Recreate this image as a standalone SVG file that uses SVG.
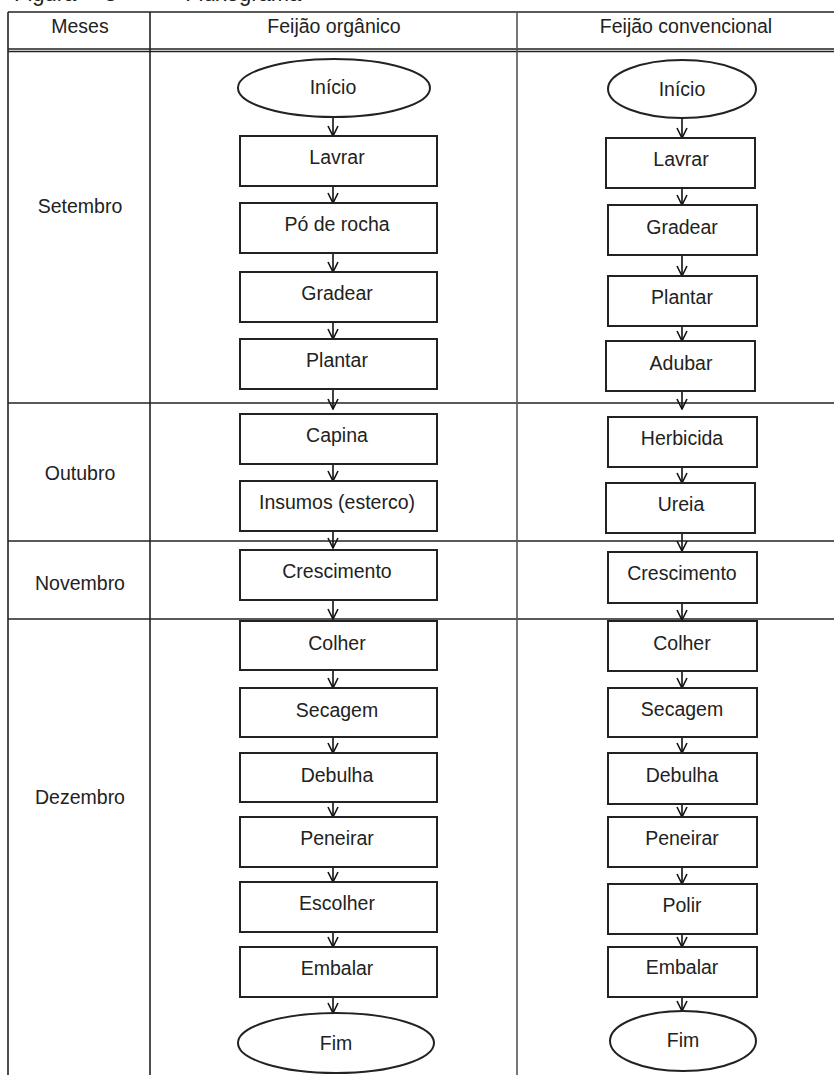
<svg xmlns="http://www.w3.org/2000/svg" width="834" height="1075" viewBox="0 0 834 1075">
<defs>
<marker id="v" viewBox="0 0 12 12" refX="11" refY="6" markerWidth="12" markerHeight="12" markerUnits="userSpaceOnUse" orient="auto">
<path d="M1,1 L11,6 L1,11" fill="none" stroke="#111" stroke-width="1.6"/>
</marker>
<style>
text{font-family:"Liberation Sans",Arial,sans-serif;font-size:19.5px;fill:#222;text-anchor:middle}
.grid{stroke:#222;stroke-width:1.6;fill:none}
.vg{stroke:#555;stroke-width:1.6;fill:none}
.box{fill:#fff;stroke:#222;stroke-width:2}
.conn{stroke:#111;stroke-width:1.6;fill:none;marker-end:url(#v)}
</style>
</defs>
<rect width="834" height="1075" fill="#fff"/>
<text x="14" y="1" style="text-anchor:start;font-size:22px;word-spacing:22px">Figura 3 – Fluxograma</text>
<g id="table">
<line class="grid" x1="8" y1="12" x2="834" y2="12"/>
<line class="grid" x1="8" y1="49" x2="834" y2="49"/>
<line class="grid" x1="8" y1="51.5" x2="834" y2="51.5"/>
<line class="grid" x1="8" y1="403" x2="834" y2="403"/>
<line class="grid" x1="8" y1="541" x2="834" y2="541"/>
<line class="grid" x1="8" y1="619" x2="834" y2="619"/>
<line class="grid" x1="8" y1="12" x2="8" y2="1075"/>
<line class="grid" x1="150" y1="12" x2="150" y2="1075"/>
<line class="vg" x1="517" y1="12" x2="517" y2="1075"/>
<text x="80" y="33">Meses</text>
<text x="334" y="33">Feijão orgânico</text>
<text x="686" y="33">Feijão convencional</text>
<text x="80" y="213">Setembro</text>
<text x="80" y="480">Outubro</text>
<text x="80" y="590">Novembro</text>
<text x="80" y="804">Dezembro</text>
</g>
<g id="connectors">
<line class="conn" x1="333" y1="117" x2="333" y2="136"/>
<line class="conn" x1="333" y1="186" x2="333" y2="203"/>
<line class="conn" x1="333" y1="253" x2="333" y2="272"/>
<line class="conn" x1="333" y1="322" x2="333" y2="339"/>
<line class="conn" x1="333" y1="389" x2="333" y2="409"/>
<line class="conn" x1="333" y1="464" x2="333" y2="481"/>
<line class="conn" x1="333" y1="531" x2="333" y2="548"/>
<line class="conn" x1="333" y1="600" x2="333" y2="619"/>
<line class="conn" x1="333" y1="670" x2="333" y2="688"/>
<line class="conn" x1="333" y1="737" x2="333" y2="753"/>
<line class="conn" x1="333" y1="802" x2="333" y2="817"/>
<line class="conn" x1="333" y1="867" x2="333" y2="882"/>
<line class="conn" x1="333" y1="932" x2="333" y2="947"/>
<line class="conn" x1="333" y1="997" x2="333" y2="1013"/>
<line class="conn" x1="682" y1="118" x2="682" y2="138"/>
<line class="conn" x1="682" y1="188" x2="682" y2="205"/>
<line class="conn" x1="682" y1="255" x2="682" y2="276"/>
<line class="conn" x1="682" y1="326" x2="682" y2="341"/>
<line class="conn" x1="682" y1="391" x2="682" y2="409"/>
<line class="conn" x1="682" y1="467" x2="682" y2="483"/>
<line class="conn" x1="682" y1="533" x2="682" y2="551"/>
<line class="conn" x1="682" y1="603" x2="682" y2="620"/>
<line class="conn" x1="682" y1="671" x2="682" y2="688"/>
<line class="conn" x1="682" y1="737" x2="682" y2="753"/>
<line class="conn" x1="682" y1="804" x2="682" y2="817"/>
<line class="conn" x1="682" y1="867" x2="682" y2="884"/>
<line class="conn" x1="682" y1="934" x2="682" y2="947"/>
<line class="conn" x1="682" y1="997" x2="682" y2="1011"/>
</g>
<g id="o-inicio"><ellipse class="box" cx="334" cy="88" rx="96" ry="29"/><text x="333" y="94">Início</text></g>
<g id="o-lavrar"><rect class="box" x="240" y="136" width="197" height="50"/><text x="337" y="164">Lavrar</text></g>
<g id="o-porocha"><rect class="box" x="240" y="203" width="197" height="50"/><text x="337" y="231">Pó de rocha</text></g>
<g id="o-gradear"><rect class="box" x="240" y="272" width="197" height="50"/><text x="337" y="300">Gradear</text></g>
<g id="o-plantar"><rect class="box" x="240" y="339" width="197" height="50"/><text x="337" y="367">Plantar</text></g>
<g id="o-capina"><rect class="box" x="240" y="414" width="197" height="50"/><text x="337" y="442">Capina</text></g>
<g id="o-insumos"><rect class="box" x="240" y="481" width="197" height="50"/><text x="337" y="509">Insumos (esterco)</text></g>
<g id="o-crescimento"><rect class="box" x="240" y="550" width="197" height="50"/><text x="337" y="578">Crescimento</text></g>
<g id="o-colher"><rect class="box" x="240" y="621" width="197" height="49"/><text x="337" y="650">Colher</text></g>
<g id="o-secagem"><rect class="box" x="240" y="688" width="197" height="49"/><text x="337" y="717">Secagem</text></g>
<g id="o-debulha"><rect class="box" x="240" y="753" width="197" height="49"/><text x="337" y="782">Debulha</text></g>
<g id="o-peneirar"><rect class="box" x="240" y="817" width="197" height="50"/><text x="337" y="845">Peneirar</text></g>
<g id="o-escolher"><rect class="box" x="240" y="882" width="197" height="50"/><text x="337" y="910">Escolher</text></g>
<g id="o-embalar"><rect class="box" x="240" y="947" width="197" height="50"/><text x="337" y="975">Embalar</text></g>
<g id="o-fim"><ellipse class="box" cx="336" cy="1043" rx="98" ry="30"/><text x="336" y="1050">Fim</text></g>
<g id="c-inicio"><ellipse class="box" cx="682" cy="89" rx="74" ry="29"/><text x="682" y="96">Início</text></g>
<g id="c-lavrar"><rect class="box" x="606" y="138" width="149" height="50"/><text x="681" y="166">Lavrar</text></g>
<g id="c-gradear"><rect class="box" x="608" y="205" width="149" height="50"/><text x="682" y="234">Gradear</text></g>
<g id="c-plantar"><rect class="box" x="608" y="276" width="149" height="50"/><text x="682" y="304">Plantar</text></g>
<g id="c-adubar"><rect class="box" x="606" y="341" width="149" height="50"/><text x="681" y="370">Adubar</text></g>
<g id="c-herbicida"><rect class="box" x="608" y="417" width="149" height="50"/><text x="682" y="445">Herbicida</text></g>
<g id="c-ureia"><rect class="box" x="606" y="483" width="149" height="50"/><text x="681" y="511">Ureia</text></g>
<g id="c-crescimento"><rect class="box" x="608" y="552" width="149" height="51"/><text x="682" y="580">Crescimento</text></g>
<g id="c-colher"><rect class="box" x="608" y="621" width="149" height="50"/><text x="682" y="650">Colher</text></g>
<g id="c-secagem"><rect class="box" x="608" y="688" width="149" height="49"/><text x="682" y="716">Secagem</text></g>
<g id="c-debulha"><rect class="box" x="608" y="753" width="149" height="51"/><text x="682" y="782">Debulha</text></g>
<g id="c-peneirar"><rect class="box" x="608" y="817" width="149" height="50"/><text x="682" y="845">Peneirar</text></g>
<g id="c-polir"><rect class="box" x="608" y="884" width="149" height="50"/><text x="682" y="912">Polir</text></g>
<g id="c-embalar"><rect class="box" x="608" y="947" width="149" height="50"/><text x="682" y="974">Embalar</text></g>
<g id="c-fim"><ellipse class="box" cx="683" cy="1041" rx="73" ry="30"/><text x="683" y="1047">Fim</text></g>
</svg>
